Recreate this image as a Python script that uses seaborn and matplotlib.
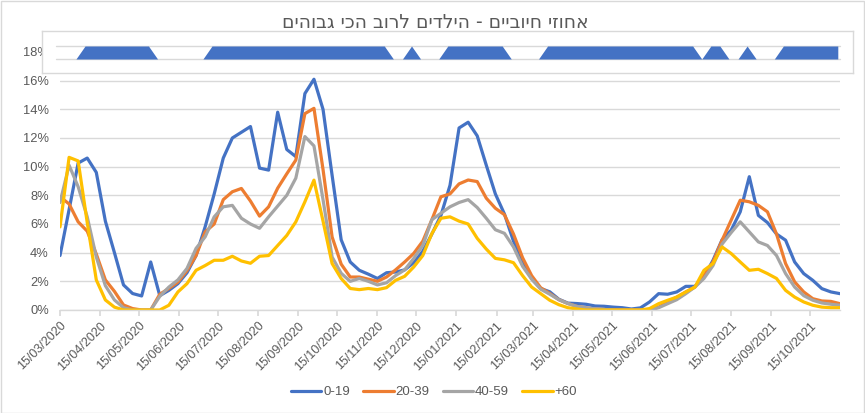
import numpy as np
import pandas as pd
import matplotlib
matplotlib.use("Agg")
import matplotlib.pyplot as plt
import matplotlib.dates as mdates
from matplotlib.patches import Rectangle
from matplotlib.lines import Line2D
import seaborn as sns

# ---------------- data ----------------
title_text = "אחוזי חיוביים - הילדים לרוב הכי גבוהים"
start_date = "2020-03-15"
n_weeks = 87
groups = ["0-19", "20-39", "40-59", "+60"]

g0_19 = [3.8, 7.0, 10.25, 10.6, 9.6, 6.2, 4.0, 1.75, 1.15, 0.98,
         3.35, 1.0, 1.37, 1.84, 2.6, 3.8, 5.8, 8.1, 10.6, 12.0,
         12.4, 12.8, 9.9, 9.76, 13.8, 11.2, 10.7, 15.1, 16.1, 14.0,
         9.4, 4.9, 3.35, 2.77, 2.5, 2.2, 2.6, 2.65, 2.8, 3.3,
         4.1, 5.3, 6.6, 8.7, 12.7, 13.1, 12.15, 10.1, 8.1, 6.7,
         4.8, 3.4, 2.2, 1.5, 1.27, 0.75, 0.48, 0.45, 0.4, 0.28,
         0.26, 0.2, 0.16, 0.07, 0.15, 0.56, 1.14, 1.1, 1.26, 1.65,
         1.65, 2.3, 3.47, 4.9, 5.57, 6.85, 9.3, 6.6, 6.1, 5.3,
         4.87, 3.35, 2.54, 2.07, 1.49, 1.26, 1.14]
g20_39 = [7.9, 7.4, 6.15, 5.5, 3.9, 2.1, 1.3, 0.35, 0.1, 0.0,
          0.0, 1.1, 1.5, 1.95, 2.75, 3.8, 5.45, 6.0, 7.7, 8.25,
          8.48, 7.6, 6.55, 7.2, 8.5, 9.5, 10.46, 13.7, 14.07, 9.8,
          5.1, 3.2, 2.3, 2.3, 2.15, 2.0, 2.3, 2.8, 3.35, 3.95,
          4.8, 6.3, 7.9, 8.1, 8.8, 9.07, 8.96, 7.8, 7.1, 6.65,
          5.3, 3.65, 2.4, 1.55, 1.15, 0.72, 0.45, 0.25, 0.15, 0.07,
          0.03, 0.0, 0.0, 0.0, 0.0, 0.0, 0.2, 0.56, 0.9, 1.26,
          1.6, 2.4, 3.35, 4.87, 6.27, 7.66, 7.55, 7.3, 6.85, 5.3,
          3.24, 1.96, 1.26, 0.79, 0.63, 0.6, 0.44]
g40_59 = [7.5, 10.1, 8.6, 6.5, 3.7, 1.7, 0.7, 0.16, 0.0, 0.0,
          0.0, 0.95, 1.6, 2.1, 2.9, 4.3, 5.1, 6.5, 7.2, 7.3,
          6.4, 6.0, 5.7, 6.5, 7.25, 8.0, 9.2, 12.1, 11.45, 7.7,
          3.7, 2.56, 2.0, 2.2, 2.0, 1.75, 1.9, 2.4, 2.8, 3.6,
          4.5, 6.3, 6.75, 7.2, 7.5, 7.7, 7.15, 6.4, 5.6, 5.35,
          4.4, 3.05, 2.15, 1.45, 1.1, 0.72, 0.45, 0.25, 0.15, 0.08,
          0.04, 0.0, 0.0, 0.0, 0.0, 0.0, 0.16, 0.44, 0.72, 1.14,
          1.6, 2.2, 3.1, 4.6, 5.4, 6.15, 5.45, 4.75, 4.5, 3.8,
          2.54, 1.6, 1.0, 0.68, 0.49, 0.4, 0.33]
g60_plus = [5.8, 10.65, 10.4, 6.1, 2.1, 0.7, 0.2, 0.0, 0.0, 0.0,
            0.0, 0.0, 0.33, 1.26, 1.84, 2.77, 3.1, 3.47, 3.47, 3.75,
            3.42, 3.26, 3.75, 3.8, 4.5, 5.2, 6.15, 7.55, 9.06, 6.2,
            3.24, 2.2, 1.5, 1.42, 1.5, 1.42, 1.56, 2.07, 2.35, 3.0,
            3.8, 5.33, 6.4, 6.5, 6.2, 6.0, 5.0, 4.25, 3.6, 3.5,
            3.3, 2.4, 1.6, 1.14, 0.68, 0.37, 0.16, 0.07, 0.0, 0.0,
            0.0, 0.0, 0.0, 0.0, 0.0, 0.1, 0.44, 0.68, 0.9, 1.26,
            1.6, 2.77, 3.24, 4.4, 3.94, 3.35, 2.77, 2.84, 2.54, 2.2,
            1.37, 0.9, 0.56, 0.33, 0.2, 0.16, 0.16]
# school-open indicator band (0/1 per week)
band = ([0, 0, 0] + [1] * 8 + [0] * 6 + [1] * 20 + [0, 0, 1, 0, 0, 0] +
        [1] * 7 + [0] * 4 + [1] * 17 + [0, 1, 1, 0, 0, 1, 0, 0, 0] + [1] * 7)

y_ticks = [0, 2, 4, 6, 8, 10, 12, 14, 16, 18]
tick_dates = pd.date_range("2020-03-01", "2021-10-01", freq="MS") + pd.Timedelta(days=14)

colors = ["#4472C4", "#ED7D31", "#A5A5A5", "#FFC000"]
grid_c = "#D9D9D9"
text_c = "#595959"

# ---------------- build ----------------
dates = pd.date_range(start_date, periods=n_weeks, freq="7D")
df = pd.DataFrame({"date": np.tile(dates, 4),
                   "value": g0_19 + g20_39 + g40_59 + g60_plus,
                   "group": np.repeat(groups, n_weeks)})

sns.set_theme(style="white")
plt.rcParams["font.family"] = ["Liberation Sans", "DejaVu Sans"]

W, H = 865, 413
fig = plt.figure(figsize=(W / 100, H / 100), dpi=100)

def fx(px):
    return px / W

def fy(py):
    return 1 - py / H

# main axes: x 60..840 px, y 0% at 310 px, 18% at 52 px
ax = fig.add_axes([fx(60), fy(310), fx(840 - 60), (310 - 52) / H])
sns.lineplot(data=df, x="date", y="value", hue="group", hue_order=groups,
             palette=colors, linewidth=2.3, ax=ax, legend=True)
ax.get_legend().remove()

ax.set_xlim(mdates.date2num(dates[0]) - 0.01, mdates.date2num(dates[-1]))
ax.set_ylim(0, 18)
ax.set_yticks(y_ticks)
ax.set_yticklabels([f"{t}%" for t in y_ticks])
ax.set_xticks(tick_dates)
ax.set_xticklabels([d.strftime("%d/%m/%Y") for d in tick_dates],
                   rotation=45, ha="right", va="top", rotation_mode="anchor")
ax.set_xlabel("")
ax.set_ylabel("")
ax.grid(axis="y", color=grid_c, linewidth=1)
ax.set_axisbelow(True)
for s in ["top", "right", "left"]:
    ax.spines[s].set_visible(False)
ax.spines["bottom"].set_color(grid_c)
ax.spines["bottom"].set_linewidth(1)
ax.tick_params(axis="x", which="both", bottom=True, length=4, color=grid_c,
               labelsize=9.0, labelcolor=text_c, pad=3)
ax.tick_params(axis="y", length=0, labelsize=9.3, labelcolor=text_c, pad=8)
ax.set_facecolor("none")

# inset band chart covering the top
ax2 = fig.add_axes([fx(42), fy(73), fx(853 - 42), (73 - 31) / H])
ax2.set_facecolor("white")
ax2.fill_between(dates, 0, band, color="#4472C4", linewidth=0, zorder=3)
d0 = mdates.date2num(dates[0])
d1 = mdates.date2num(dates[-1])
ppd = (837.8 - 57.8) / (d1 - d0)
ax2.set_xlim(d0 - (57.8 - 42) / ppd, d1 + (853 - 837.8) / ppd)
ax2.set_ylim(-14 / 13, 1 + 15 / 13)
xa = (56 - 42) / (853 - 42)
xb = (840 - 42) / (853 - 42)
for yv in (0, 1):
    ax2.axhline(yv, xmin=xa, xmax=xb, color=grid_c, linewidth=1, zorder=1)
ax2.set_xticks([])
ax2.set_yticks([])
for s in ax2.spines.values():
    s.set_color(grid_c)
    s.set_linewidth(1)

# title (visual order for right-to-left script)
fig.text(fx(435), fy(22), title_text[::-1], ha="center", va="center",
         fontsize=13.5, color=text_c, family=["DejaVu Sans"])

# legend
leg_handles = [Line2D([0], [0], color=c, linewidth=2.3) for c in colors]
fig.legend(leg_handles, groups, loc="center", bbox_to_anchor=(fx(434), fy(392)),
           ncol=4, frameon=False, fontsize=9.5, handlelength=2.3,
           handletextpad=0.15, columnspacing=1.0, labelcolor=text_c)

# chart-area border
fig.patches.append(Rectangle((0.5 / W, 0.5 / H), 1 - 1.5 / W, 1 - 1.5 / H,
                             transform=fig.transFigure, fill=False,
                             edgecolor=grid_c, linewidth=1))

fig.savefig("out.png", dpi=100, facecolor="white")
